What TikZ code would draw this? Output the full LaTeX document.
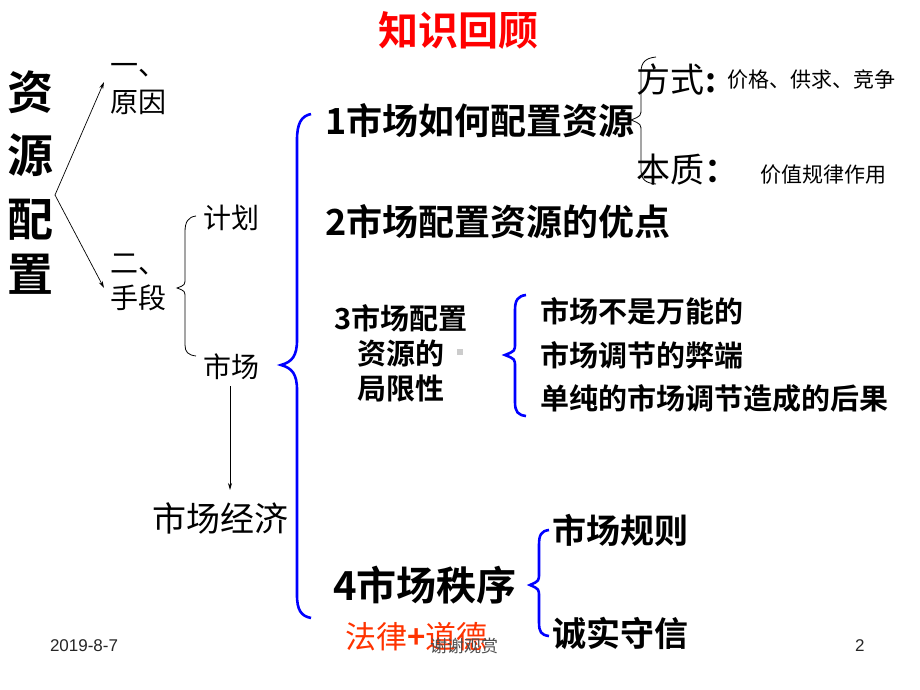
\documentclass[tikz,border=0pt]{standalone}
\usepackage{fontspec}
\setmainfont{Liberation Sans}
\newfontfamily\cjk{Noto Sans CJK SC}
\newfontfamily\cjkb{Noto Sans CJK SC Bold}
\usetikzlibrary{arrows.meta}
\definecolor{myblue}{RGB}{0,0,255}
\definecolor{myred}{RGB}{255,0,0}
\definecolor{myorange}{RGB}{255,51,0}
\tikzset{
  t/.style={inner sep=0pt, outer sep=0pt, anchor=west, text=black},
  bb/.style={t, font=\cjkb\fontsize{#1}{#1}\selectfont},
  nn/.style={t, font=\cjk\fontsize{#1}{#1}\selectfont},
  thinarrow/.style={draw=black, line width=0.7pt, -{Stealth[length=7pt,width=4pt]}},
  bluebrace/.style={draw=myblue, line width=2.6pt},
  blackbrace/.style={draw=black, line width=0.8pt},
}
\begin{document}
\begin{tikzpicture}[x=1pt,y=-1pt]
\useasboundingbox[fill=white] (0,0) rectangle (920,690);
% title
\node[bb=40, anchor=center, text=myred] (title) at (458,30) {知识回顾};
% vertical left
\node[bb=46, anchor=center] (z1) at (30,92) {资};
\node[bb=46, anchor=center] (z2) at (30,155) {源};
\node[bb=46, anchor=center] (z3) at (30,220) {配};
\node[bb=46, anchor=center] (z4) at (30,274) {置};
\coordinate (root) at (55,195);
\node[nn=28] (yi) at (110,70) {一、};
\node[nn=28] (yuanyin) at (110,102) {原因};
\node[nn=28] (er) at (110,265) {二、};
\node[nn=28] (shouduan) at (110,298) {手段};
\coordinate (yiend) at (104,82);
\coordinate (erend) at (104,288);
\draw[thinarrow] (root) -- (yiend);
\draw[thinarrow] (root) -- (erend);
% brace for 计划/市场
\node[nn=28] (jihua) at (203,218) {计划};
\node[nn=28] (shichang) at (203,367) {市场};
\draw[blackbrace] (196,216) .. controls (188,217) and (185,222) .. (185,232) -- (185,278) .. controls (185,285) .. (177,288) .. controls (185,291) .. (185,298) -- (185,345) .. controls (185,352) and (188,355) .. (196,356);
% arrow to 市场经济
\coordinate (mkA) at (230,386);
\coordinate (mkB) at (230,490);
\draw[thinarrow] (mkA) -- (mkB);
\node[nn=34] (jingji) at (152,518) {市场经济};
% big blue brace
\draw[bluebrace] (311,114) .. controls (301,116) and (297,124) .. (297,140) -- (297,340) .. controls (297,356) and (292,362) .. (281,365) .. controls (292,368) and (297,374) .. (297,390) -- (297,595) .. controls (297,610) and (301,616) .. (311,618);
% item 1
\node[bb=36] (i1) at (325,121) {1市场如何配置资源};
\draw[blackbrace] (656,57) .. controls (646,58) and (641,62) .. (641,72) -- (641,108) .. controls (641,116) .. (631,120) .. controls (641,124) .. (641,132) -- (641,170) .. controls (641,180) and (646,183) .. (656,184);
\node[nn=34] (fangshi) at (636,80) {方式};
\node[bb=34] (colon1) at (705,83) {:};
\node[nn=21] (jiage) at (727,80) {价格、供求、竞争};
\node[nn=34] (benzhi) at (636,170) {本质{\cjkb ：}};
\node[nn=21] (jiazhi) at (760,175) {价值规律作用};
% item 2
\node[bb=36] (i2) at (325,222) {2市场配置资源的优点};
% item 3
\node[bb=29, anchor=center, align=center] (i3) at (401,353) {3市场配置\\[6pt]资源的\\[6pt]局限性};
\fill[gray!40] (457,349) rectangle (463,355);
\draw[bluebrace] (526,295) .. controls (518,296) and (515,300) .. (515,310) -- (515,343) .. controls (515,351) .. (505,355) .. controls (515,359) .. (515,367) -- (515,402) .. controls (515,412) and (518,415) .. (526,416);
\node[bb=29] (l1) at (540,311) {市场不是万能的};
\node[bb=29] (l2) at (540,355) {市场调节的弊端};
\node[bb=29] (l3) at (540,398) {单纯的市场调节造成的后果};
% item 4
\node[bb=40] (i4) at (333,585) {4市场秩序};
\draw[bluebrace] (549,530) .. controls (541,531) and (539,535) .. (539,545) -- (539,573) .. controls (539,581) .. (530,585) .. controls (539,589) .. (539,597) -- (539,622) .. controls (539,632) and (541,635) .. (549,636);
\node[bb=34] (guize) at (552,530) {市场规则};
\node[bb=34] (chengxin) at (552,633) {诚实守信};
\node[nn=31, text=myorange] (falv) at (345,637) {法律{\cjkb +}道德};
% footer
\node[t, font=\fontsize{17}{17}\selectfont, text=black!85] (date) at (50,646) {2019-8-7};
\node[nn=17, text=black!70] (thanks) at (430,646) {谢谢观赏};
\node[t, font=\fontsize{17}{17}\selectfont, text=black!85] (page) at (855,646) {2};
\end{tikzpicture}
\end{document}
